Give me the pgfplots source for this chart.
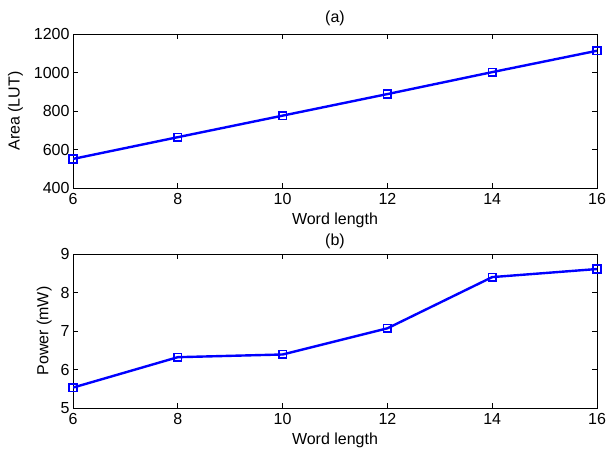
\documentclass[border=0pt]{standalone}
\usepackage{fontspec}
\setmainfont{Liberation Sans}
\usepackage{pgfplots}
\pgfplotsset{compat=1.18}
\begin{document}
\fontsize{16}{19}\selectfont
\begin{tikzpicture}
\useasboundingbox (0pt,0pt) rectangle (607pt,451pt);
\pgfplotsset{
  mystyle/.style={
    scale only axis,
    width=524pt, height=154pt,
    xmin=6, xmax=16,
    xtick={6,8,10,12,14,16},
    tick align=inside,
    major tick length=5pt,
    axis line style={line width=0.7pt},
    tick style={line width=0.7pt, black},
    every tick label/.append style={font=\fontsize{16}{19}\selectfont},
    label style={font=\fontsize{16}{19}\selectfont},
    title style={font=\fontsize{16}{19}\selectfont},
    /pgf/number format/assume math mode=true,
    /pgf/number format/1000 sep={},
    xticklabel style={yshift=0pt},
    yticklabel style={xshift=2pt},
  },
  myline/.style={color={rgb,255:red,0;green,0;blue,255}, line width=2.4pt, mark=square, mark size=3.8pt, mark options={line width=1.6pt, solid}},
}
\begin{axis}[mystyle, at={(73pt,263pt)}, anchor=south west,
  ymin=400, ymax=1200, ytick={400,600,800,1000,1200},
  xlabel={Word length}, ylabel={Area (LUT)}, title={(a)},
  xlabel style={yshift=3pt}, ylabel style={yshift=0pt}, title style={yshift=-3pt}]
\addplot[myline] coordinates {(6,551) (8,664) (10,776) (12,888) (14,1002) (16,1113)};
\end{axis}
\begin{axis}[mystyle, at={(73pt,43pt)}, anchor=south west,
  ymin=5, ymax=9, ytick={5,6,7,8,9},
  xlabel={Word length}, ylabel={Power (mW)}, title={(b)},
  xlabel style={yshift=3pt}, ylabel style={yshift=-2pt}, title style={yshift=-6pt}]
\addplot[myline] coordinates {(6,5.53) (8,6.32) (10,6.39) (12,7.07) (14,8.40) (16,8.61)};
\end{axis}
\end{tikzpicture}
\end{document}
